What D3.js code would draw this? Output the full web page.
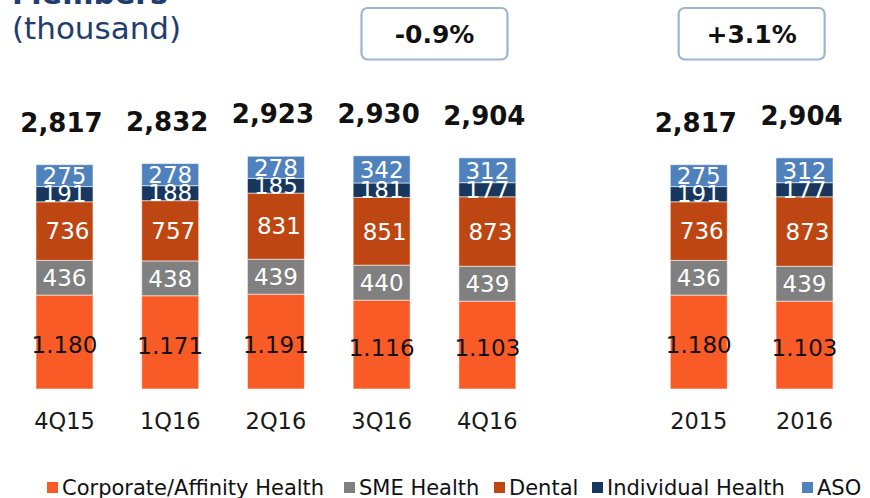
<!DOCTYPE html>
<html>
<head>
<meta charset="utf-8">
<script src="https://cdn.jsdelivr.net/npm/d3@7"></script>
<style>
  body { margin: 0; background: #fff; }
  svg { display: block; font-family: "DejaVu Sans", Verdana, sans-serif; }
</style>
</head>
<body>
<div id="chart"></div>
<script>
var width = 870, height = 498;

// categories (quarters, then the two full years after a gap)
var quarters = ["4Q15", "1Q16", "2Q16", "3Q16", "4Q16"];
var years = ["2015", "2016"];
var categories = quarters.concat(years);

// series values, thousand members (bottom to top)
var corporate = [1180, 1171, 1191, 1116, 1103, 1180, 1103];
var sme = [436, 438, 439, 440, 439, 436, 439];
var dental = [736, 757, 831, 851, 873, 736, 873];
var individual = [191, 188, 185, 181, 177, 191, 177];
var aso = [275, 278, 278, 342, 312, 275, 312];
var totals = [2817, 2832, 2923, 2930, 2904, 2817, 2904];

var seriesNames = ["Corporate/Affinity Health", "SME Health", "Dental", "Individual Health", "ASO"];
var seriesColors = ["#F85B25", "#808080", "#BE4613", "#17375E", "#4F81BD"];
var labelColors = ["#111", "#fff", "#fff", "#fff", "#fff"];

// growth boxes
var changeFrom = ["3Q16", "2015"];
var changeTo = ["4Q16", "2016"];
var changeLabels = ["-0.9%", "+3.1%"];

var allSeries = [corporate, sme, dental, individual, aso];

// table for d3.stack
var table = categories.map(function (c, i) {
	var row = { cat: c };
	seriesNames.forEach(function (s, j) { row[s] = allSeries[j][i]; });
	return row;
});

var stacked = d3.stack().keys(seriesNames)(table);

var svg = d3.select("#chart").append("svg")
	.attr("width", width)
	.attr("height", height);

// band scale with an empty slot between quarters and years
var x = d3.scaleBand()
	.domain(quarters.concat(["gap"], years))
	.range([36, 833])
	.paddingInner(0.461)
	.paddingOuter(0);

var y = d3.scaleLinear()
	.domain([0, 3000])
	.range([389, 150.2]);

// title (first line is cut by the top edge)
svg.append("text")
	.attr("x", 12)
	.attr("y", 4)
	.attr("fill", "#1F3D6E")
	.attr("font-weight", "bold")
	.attr("font-size", 30)
	.text("Members");

svg.append("text")
	.attr("x", 12)
	.attr("y", 39)
	.attr("fill", "#1F3D6E")
	.attr("font-size", 31)
	.text("(thousand)");

// stacked bars
var layers = svg.selectAll("g.layer")
	.data(stacked)
	.enter().append("g")
	.attr("class", "layer")
	.attr("fill", function (d, i) { return seriesColors[i]; });

layers.selectAll("rect")
	.data(function (d) { return d; })
	.enter().append("rect")
	.attr("x", function (d) { return x(d.data.cat); })
	.attr("y", function (d) { return y(d[1]); })
	.attr("width", x.bandwidth())
	.attr("height", function (d) { return y(d[0]) - y(d[1]); })
	.attr("stroke", "rgba(255,255,255,0.55)")
	.attr("stroke-width", 1);

// segment labels
stacked.forEach(function (layer, i) {
	svg.append("g").selectAll("text")
		.data(layer)
		.enter().append("text")
		.attr("x", function (d) { return x(d.data.cat) + x.bandwidth() / 2 + (i == 2 ? 3 : 0); })
		.attr("y", function (d) { return (y(d[0]) + y(d[1])) / 2 + (i == 0 ? 3 : 0); })
		.attr("dy", "0.36em")
		.attr("text-anchor", "middle")
		.attr("font-size", 23)
		.attr("fill", labelColors[i])
		.text(function (d) {
			var v = d[1] - d[0];
			return i == 0 ? d3.format(",")(v).replace(",", ".") : v;
		});
});

// totals above the bars
svg.append("g").selectAll("text")
	.data(categories)
	.enter().append("text")
	.attr("x", function (c) { return x(c) + x.bandwidth() / 2 - 3; })
	.attr("y", function (c, i) { return y(totals[i]) - 33; })
	.attr("text-anchor", "middle")
	.attr("font-weight", "bold")
	.attr("font-size", 26)
	.attr("fill", "#111")
	.text(function (c, i) { return d3.format(",")(totals[i]); });

// category axis labels
svg.append("g").selectAll("text")
	.data(categories)
	.enter().append("text")
	.attr("x", function (c) { return x(c) + x.bandwidth() / 2; })
	.attr("y", 429)
	.attr("text-anchor", "middle")
	.attr("font-size", 22.5)
	.attr("fill", "#1a1a1a")
	.text(function (c) { return c; });

// growth boxes
changeLabels.forEach(function (lbl, i) {
	var cx = (x(changeFrom[i]) + x(changeTo[i]) + x.bandwidth()) / 2;
	svg.append("rect")
		.attr("x", cx - 73)
		.attr("y", 8)
		.attr("width", 146)
		.attr("height", 51.5)
		.attr("rx", 6)
		.attr("fill", "#fff")
		.attr("stroke", "#9DB4D2")
		.attr("stroke-width", 2.2);
	svg.append("text")
		.attr("x", cx)
		.attr("y", 42.5)
		.attr("text-anchor", "middle")
		.attr("font-weight", "bold")
		.attr("font-size", 25)
		.attr("fill", "#111")
		.text(lbl);
});

// legend
var legendX = [47, 344, 494, 592, 802];
var legend = svg.append("g").selectAll("g")
	.data(seriesNames)
	.enter().append("g")
	.attr("transform", function (d, i) { return "translate(" + legendX[i] + ",482)"; });

legend.append("rect")
	.attr("width", 11)
	.attr("height", 11)
	.attr("fill", function (d, i) { return seriesColors[i]; });

legend.append("text")
	.attr("x", 15)
	.attr("y", 13)
	.attr("font-size", 21)
	.attr("fill", "#111")
	.text(function (d) { return d; });
</script>
</body>
</html>
